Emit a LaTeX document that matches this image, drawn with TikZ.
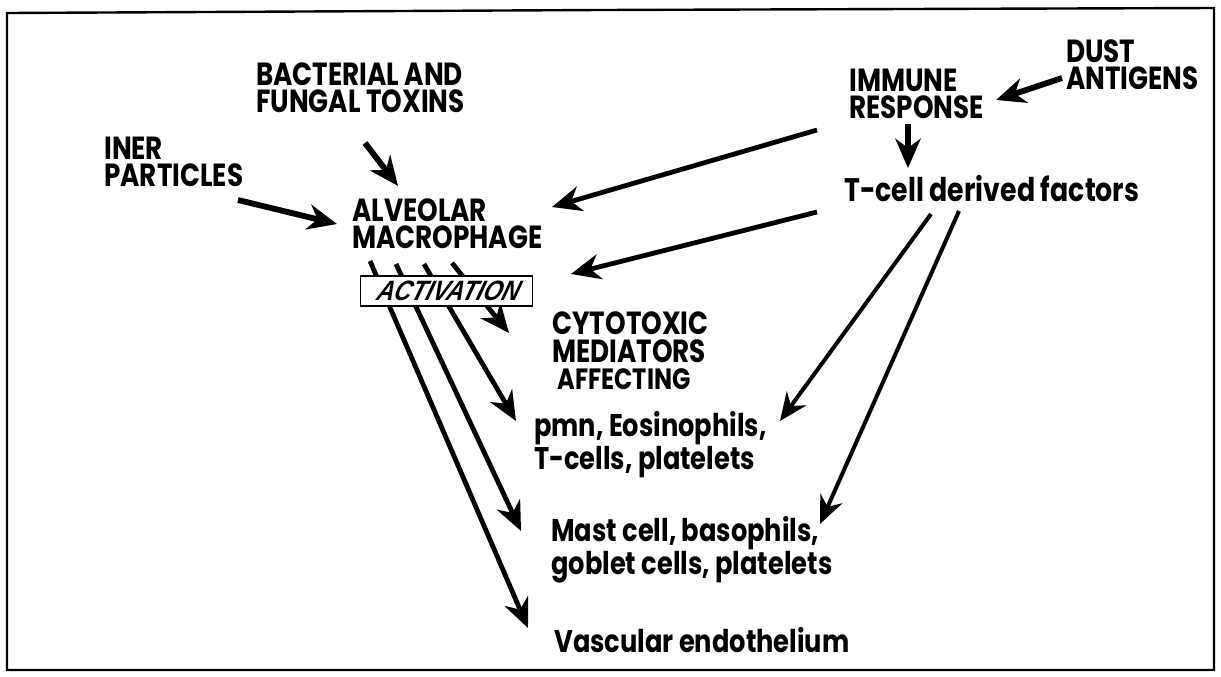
\documentclass[tikz,border=0pt]{standalone}
\usepackage{fontspec}
\setmainfont{Poppins}[FakeStretch=0.82]
\newfontfamily\actfont{Liberation Sans}[FakeStretch=0.85,FakeSlant=0.3]
\usetikzlibrary{arrows.meta}
\begin{document}
\begin{tikzpicture}[x=0.75pt,y=-0.75pt,
  lbl/.style={anchor=west,inner sep=0pt,align=left,font=\fontsize{24}{20.5}\selectfont\bfseries},
  lowlbl/.style={anchor=west,inner sep=0pt,align=left,font=\fontsize{23.5}{20.5}\selectfont\bfseries},
  fatarrow/.style={line width=4.4pt,-{Stealth[length=22pt,width=19pt,inset=7pt]}},
  midarrow/.style={line width=3.6pt,-{Stealth[length=22pt,width=19pt,inset=7pt]}},
  thinarrow/.style={line width=3pt,-{Stealth[length=21pt,width=18pt,inset=7pt]}},
  actbox/.style={draw,line width=1.3pt,fill=white,minimum width=129pt,minimum height=22pt,inner sep=0pt,font=\actfont\fontsize{21}{21}\selectfont\bfseries\itshape}]
\useasboundingbox (0,0) rectangle (1221,676);
\fill[white] (0,0) rectangle (1221,676);
% frame
\draw[line width=1.8pt] (7,13) -- (600,10) -- (1214,8) -- (1214,670) -- (7,670) -- cycle;

% text nodes
\node[lbl] (bact) at (256,88) {BACTERIAL AND\\FUNGAL TOXINS};
\node[lbl] (iner) at (104,162) {INER\\PARTICLES};
\node[lbl] (alv) at (352,224) {ALVEOLAR\\MACROPHAGE};
\node[lbl] (imm) at (849,94) {IMMUNE\\RESPONSE};
\node[lbl] (dust) at (1066,65) {DUST\\ANTIGENS};
\node[lowlbl,font=\fontsize{24.5}{20.5}\selectfont\bfseries] (tcell) at (844,189) {T-cell derived factors};
\node[lbl] (cyto) at (552,351) {CYTOTOXIC\\MEDIATORS\\\hspace*{4pt}\fontsize{22}{20.5}\selectfont AFFECTING};
\node[lowlbl] (pmn) at (534,445) {pmn, Eosinophils,\\T-cells, platelets};
\node[lowlbl] (mast) at (551,550) {Mast cell, basophils,\\goblet cells, platelets};
\node[lowlbl] (vasc) at (554,640) {Vascular endothelium};

% coordinates for connector ends
\coordinate (b1) at (365,143); \coordinate (b2) at (398,186);
\coordinate (i1) at (238,200); \coordinate (i2) at (337,224);
\coordinate (r1) at (817,130); \coordinate (r2) at (552,207);
\coordinate (s1) at (817,212); \coordinate (s2) at (571,274);
\coordinate (d1) at (1062,78); \coordinate (d2) at (996,100);
\coordinate (u1) at (908,124); \coordinate (u2) at (908,168);
\coordinate (t1) at (931,214); \coordinate (t2) at (780,421);
\coordinate (t3) at (959,211); \coordinate (t4) at (820,524);
\coordinate (m1s) at (452,263); \coordinate (m1e) at (509,333);
\coordinate (m2s) at (424,264); \coordinate (m2e) at (516,421);
\coordinate (m3s) at (396,264); \coordinate (m3e) at (521,531);
\coordinate (m4s) at (370,261); \coordinate (m4e) at (528,628);

% arrows
\draw[fatarrow] (b1) -- (b2);
\draw[fatarrow] (i1) -- (i2);
\draw[midarrow] (r1) -- (r2);
\draw[midarrow] (s1) -- (s2);
\draw[fatarrow] (d1) -- (d2);
\draw[fatarrow] (u1) -- (u2);
\draw[thinarrow] (t1) -- (t2);
\draw[thinarrow] (t3) -- (t4);
\draw[midarrow] (m1s) -- (m1e);
\draw[midarrow] (m2s) -- (m2e);
\draw[midarrow] (m3s) -- (m3e);
\draw[midarrow] (m4s) -- (m4e);

\node[actbox] (act) at (446.5,291) {ACTIVATION};
\end{tikzpicture}
\end{document}
